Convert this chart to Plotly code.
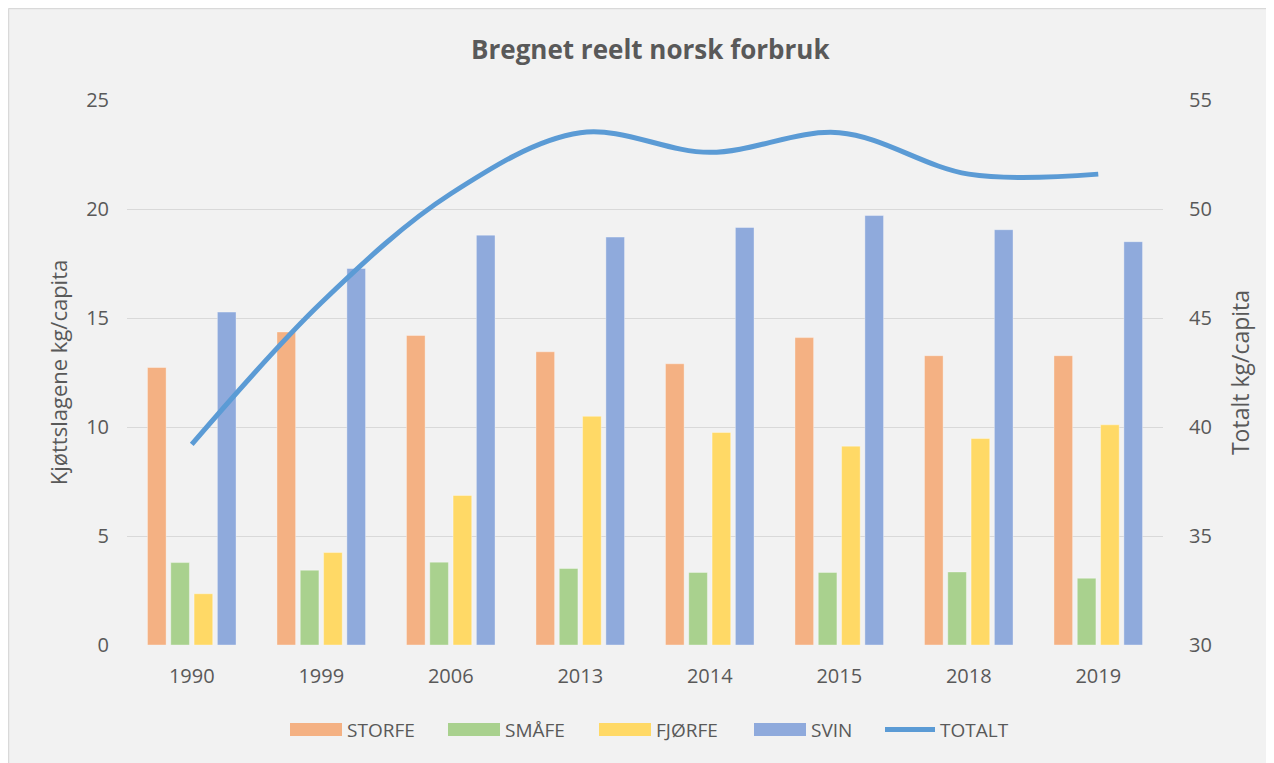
import plotly.graph_objects as go

years = ["1990", "1999", "2006", "2013", "2014", "2015", "2018", "2019"]
storfe = [12.73, 14.36, 14.2, 13.45, 12.9, 14.1, 13.27, 13.27]
smaafe = [3.78, 3.43, 3.8, 3.51, 3.33, 3.33, 3.35, 3.06]
fjorfe = [2.35, 4.24, 6.86, 10.49, 9.75, 9.12, 9.47, 10.1]
svin = [15.27, 17.27, 18.8, 18.71, 19.15, 19.7, 19.05, 18.5]
totalt = [39.2, 45.7, 50.7, 53.5, 52.6, 53.5, 51.6, 51.6]

left_ticks = [0, 5, 10, 15, 20, 25]
right_ticks = [30, 35, 40, 45, 50, 55]

bar_series = [
    ("STORFE", storfe, "#F4B183"),
    ("SMÅFE", smaafe, "#A9D18E"),
    ("FJØRFE", fjorfe, "#FFD966"),
    ("SVIN", svin, "#8FAADC"),
]
LINE_NAME, LINE_COLOR = "TOTALT", "#5B9BD5"

FONT = "Open Sans"
TXT = "#595959"

fig = go.Figure()
bar_line = dict(color="rgba(255,255,255,0.35)", width=1)
for name, vals, col in bar_series:
    fig.add_trace(go.Bar(x=years, y=vals, name=name, showlegend=False,
                         marker=dict(color=col, line=bar_line)))

fig.add_trace(go.Scatter(x=years, y=totalt, name=LINE_NAME, yaxis="y2",
                         mode="lines", showlegend=False,
                         line=dict(color=LINE_COLOR, width=5, shape="spline",
                                   smoothing=1.0)))

# page body has an 8px margin, so figure coords = reference coords - 8
W, H = 1266, 755
L, R, T, B = 119, 111, 92, 118
pw, ph = W - L - R, H - T - B


def px2x(px):
    return (px - L) / pw


def py2y(py):
    return (H - B - py) / ph


shapes = [
    dict(type="line", xref="paper", yref="paper", x0=px2x(0.5), x1=px2x(W + 5),
         y0=py2y(0.5), y1=py2y(0.5), line=dict(color="#d9d9d9", width=1.5)),
    dict(type="line", xref="paper", yref="paper", x0=px2x(0.5), x1=px2x(0.5),
         y0=py2y(0.5), y1=py2y(H + 5), line=dict(color="#d9d9d9", width=1.5)),
]
annotations = []

# legend (swatch left edges in figure pixels)
leg_x = [282, 440, 591, 746, 875]
leg_y = 721.5
sw_w, sw_h = 52, 13
names = [s[0] for s in bar_series] + [LINE_NAME]
colors = [s[2] for s in bar_series] + [LINE_COLOR]
for i, (nm, col, x0) in enumerate(zip(names, colors, leg_x)):
    if i < len(bar_series):
        shapes.append(dict(type="rect", xref="paper", yref="paper",
                           x0=px2x(x0), x1=px2x(x0 + sw_w),
                           y0=py2y(leg_y + sw_h / 2), y1=py2y(leg_y - sw_h / 2),
                           fillcolor=col, line=dict(width=0)))
    else:
        shapes.append(dict(type="line", xref="paper", yref="paper",
                           x0=px2x(x0 + 2), x1=px2x(x0 + sw_w),
                           y0=py2y(leg_y), y1=py2y(leg_y),
                           line=dict(color=col, width=5)))
    annotations.append(dict(text=nm, xref="paper", yref="paper",
                            x=px2x(x0 + sw_w + 3), y=py2y(leg_y),
                            xanchor="left", yanchor="middle", showarrow=False,
                            font=dict(family=FONT, size=19, color=TXT)))

fig.update_layout(
    width=W, height=H,
    margin=dict(l=L, r=R, t=T, b=B, autoexpand=False),
    paper_bgcolor="#f2f2f2",
    plot_bgcolor="#f2f2f2",
    font=dict(family=FONT, color=TXT, size=19),
    title=dict(text="<b>Bregnet reelt norsk forbruk</b>", x=(647.5 - 8) / W,
               xanchor="center", xref="paper",
               y=1 - 42 / H, yanchor="middle",
               font=dict(family=FONT, size=26, color=TXT)),
    barmode="group",
    bargap=0.28,
    bargroupgap=0.2,
    showlegend=False,
    xaxis=dict(type="category", showgrid=False, showline=False, zeroline=False,
               ticks="", ticklabelstandoff=17, tickfont=dict(size=20, color=TXT)),
    yaxis=dict(range=[0, 25], tickvals=left_ticks, showgrid=True,
               gridcolor="#d9d9d9", gridwidth=1.3, zeroline=False, showline=False,
               ticks="", ticklabelstandoff=17, tickfont=dict(size=20, color=TXT),
               title=dict(text="Kjøttslagene kg/capita", standoff=12,
                          font=dict(size=22, color=TXT))),
    yaxis2=dict(range=[30, 55], tickvals=right_ticks, overlaying="y", side="right",
                showgrid=False, zeroline=False, showline=False, ticks="",
                ticklabelstandoff=25, tickfont=dict(size=20, color=TXT),
                title=dict(text="Totalt kg/capita", standoff=22,
                           font=dict(size=23, color=TXT))),
    shapes=shapes,
    annotations=annotations,
)

fig.write_html("out.html")
